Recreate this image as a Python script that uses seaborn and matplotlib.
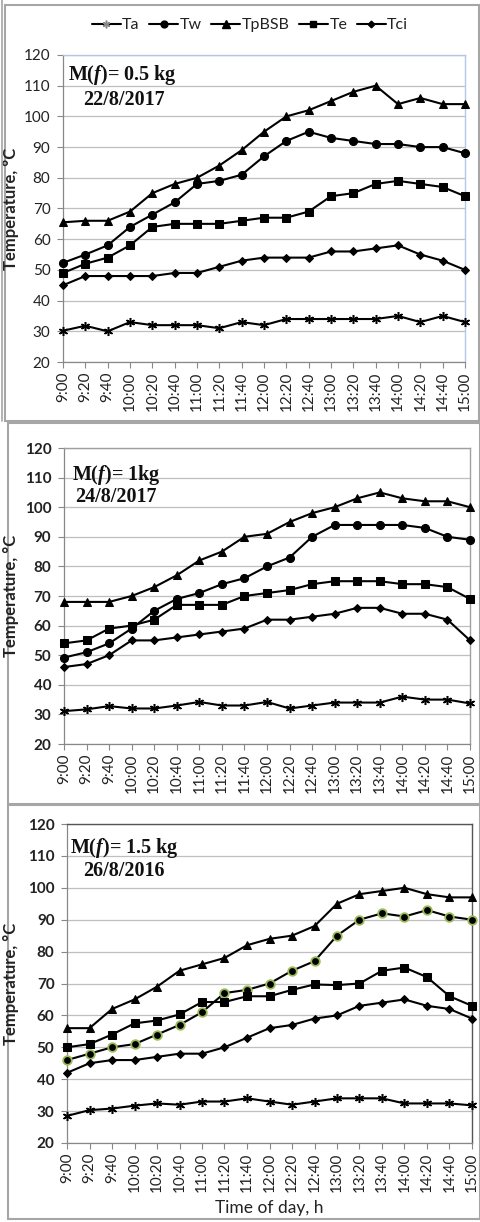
import matplotlib
matplotlib.use("Agg")
import matplotlib.pyplot as plt
from matplotlib.patches import Rectangle
from matplotlib.lines import Line2D
import seaborn as sns
import pandas as pd

sns.set_theme(style="white")
plt.rcParams['font.family'] = ['Lato', 'DejaVu Sans']
plt.rcParams['mathtext.fontset'] = 'custom'
plt.rcParams['mathtext.it'] = 'Liberation Serif:italic:bold'
plt.rcParams['mathtext.rm'] = 'Liberation Serif:bold'
plt.rcParams['mathtext.bf'] = 'Liberation Serif:bold'

times = ['9:00', '9:20', '9:40', '10:00', '10:20', '10:40', '11:00', '11:20', '11:40',
         '12:00', '12:20', '12:40', '13:00', '13:20', '13:40', '14:00', '14:20', '14:40', '15:00']
series_names = ['Ta', 'Tw', 'TpBSB', 'Te', 'Tci']

# Panel 1: M(f) = 0.5 kg, 22/8/2017
ta_05 = [30.2, 31.8, 30, 33, 32, 32, 32, 31, 33, 32, 34, 34, 34, 34, 34, 35, 33, 35, 33]
tw_05 = [52.3, 55, 58, 64, 68, 72, 78, 79, 81, 87, 92, 95, 93, 92, 91, 91, 90, 90, 88]
tp_05 = [65.5, 66, 66, 69, 75, 78, 80, 84, 89, 95, 100, 102, 105, 108, 110, 104, 106, 104, 104]
te_05 = [49, 52, 54, 58, 64, 65, 65, 65, 66, 67, 67, 69, 74, 75, 78, 79, 78, 77, 74]
tci_05 = [45, 48, 48, 48, 48, 49, 49, 51, 53, 54, 54, 54, 56, 56, 57, 58, 55, 53, 50]

# Panel 2: M(f) = 1 kg, 24/8/2017
ta_10 = [31.1, 31.7, 32.8, 32, 32, 33, 34.2, 33, 33, 34.2, 32, 33, 34, 34, 34, 36, 35, 35, 33.7]
tw_10 = [49.2, 51, 54, 59, 65, 69, 71, 74, 76, 80, 83, 90, 94, 94, 94, 94, 93, 90, 89]
tp_10 = [68, 68, 68, 70, 73, 77, 82, 85, 90, 91, 95, 98, 100, 103, 105, 103, 102, 102, 100]
te_10 = [54, 55, 59, 60, 62, 67, 67, 67, 70, 71, 72, 74, 75, 75, 75, 74, 74, 73, 69]
tci_10 = [46, 47, 50, 55, 55, 56, 57, 58, 59, 62, 62, 63, 64, 66, 66, 64, 64, 62, 55]

# Panel 3: M(f) = 1.5 kg, 26/8/2016
ta_15 = [28.5, 30.3, 30.8, 31.7, 32.4, 32, 33, 33, 34, 33, 32, 33, 34, 34, 34, 32.4, 32.4, 32.4, 31.8]
tw_15 = [46, 48, 50, 51, 54, 57, 61, 67, 68, 70, 74, 77, 85, 90, 92, 91, 93, 91, 90]
tp_15 = [56, 56, 62, 65, 69, 74, 76, 78, 82, 84, 85, 88, 95, 98, 99, 100, 98, 97, 97]
te_15 = [50, 51, 54, 57.5, 58.4, 60.3, 64.2, 64.2, 66, 66, 68, 69.7, 69.5, 70, 74, 75, 72, 66, 63]
tci_15 = [42, 45, 46, 46, 47, 48, 48, 50, 53, 56, 57, 59, 60, 63, 64, 65, 63, 62, 59]

panels = [
    dict(data=[ta_05, tw_05, tp_05, te_05, tci_05], title=r'M($\mathit{f}$)= 0.5 kg', date='22/8/2017'),
    dict(data=[ta_10, tw_10, tp_10, te_10, tci_10], title=r'M($\mathit{f}$)= 1kg', date='24/8/2017'),
    dict(data=[ta_15, tw_15, tp_15, te_15, tci_15], title=r'M($\mathit{f}$)= 1.5 kg', date='26/8/2016'),
]

W, H = 481, 1222
fig = plt.figure(figsize=(W / 100, H / 100), dpi=100)
fig.patch.set_facecolor('white')

def fx(px):
    return px / W

def fy(py):
    return 1 - py / H

# axes boxes in pixels (left, top, right, bottom)
boxes = [(63, 55, 465, 362), (64, 448, 470, 744), (67, 824, 472, 1143)]
# outer panel frames
frames = [(5, 5, 479, 421), (8, 423, 480, 804), (8, 805, 480, 1219)]
# annotation positions (x, baseline) for title and date
ann = [((68, 80), (83, 105)), ((72, 480), (75, 502)), ((70, 853), (83, 876))]

styles = {
    'Ta': dict(marker=(6, 2, 0), markersize=6.5, markeredgewidth=1.1),
    'Tw': dict(marker='o', markersize=5.8),
    'TpBSB': dict(marker='^', markersize=6),
    'Te': dict(marker='s', markersize=5.6),
    'Tci': dict(marker='D', markersize=4),
}

for (x0, y0, x1, y1) in frames:
    fig.add_artist(Rectangle((fx(x0), fy(y1)), fx(x1 - x0), (y1 - y0) / H,
                             transform=fig.transFigure, fill=False,
                             edgecolor='#a6a6a6', lw=1.5, zorder=0))
fig.add_artist(Line2D([fx(1.5), fx(1.5)], [fy(0), fy(421)], transform=fig.transFigure,
                      color='#a6a6a6', lw=1.2))

axes = []
for i, p in enumerate(panels):
    x0, y0, x1, y1 = boxes[i]
    ax = fig.add_axes([fx(x0), fy(y1), fx(x1 - x0), (y1 - y0) / H])
    axes.append(ax)
    for name, vals in zip(series_names, p['data']):
        st = dict(styles[name])
        mec = 'black'
        if i == 2 and name == 'Tw':
            mec = '#9bbb59'
            st['markersize'] = 6.2
            st['markeredgewidth'] = 1.3
        df = pd.DataFrame({'time': times, 'value': vals})
        sns.lineplot(data=df, x='time', y='value', ax=ax, color='black', lw=1.5,
                     markerfacecolor='black', markeredgecolor=mec, clip_on=False,
                     label=name, zorder=3, **st)
    if ax.get_legend() is not None:
        ax.get_legend().remove()
    ax.set_xlim(0, len(times) - 1)
    ax.set_ylim(20, 120)
    ax.set_yticks(range(20, 121, 10))
    ax.set_xticks(range(len(times)))
    ax.set_xticklabels(times, rotation=90, fontsize=11, color='#222222')
    ax.grid(axis='y', color='#bfbfbf', lw=0.9)
    ax.grid(axis='x', visible=False)
    ax.set_axisbelow(True)
    weight = 'normal' if i == 0 else 'bold'
    for lab in ax.get_yticklabels():
        lab.set_fontsize(11)
        lab.set_fontweight(weight)
        lab.set_color('#222222')
    ax.tick_params(axis='both', which='major', length=4, width=0.8, color='#888888',
                   direction='out', bottom=True, left=True, pad=3)
    ax.tick_params(axis='y', pad=5)
    ax.set_ylabel('Temperature, °C', fontsize=12, fontweight='bold', color='#222222')
    ax.yaxis.set_label_coords((19 - x0) / (x1 - x0), 0.5)
    ax.set_xlabel('')
    for s in ['left', 'bottom']:
        ax.spines[s].set_color('#888888')
        ax.spines[s].set_linewidth(0.9)
    if i == 0:
        topc = '#b4c7e7'
    elif i == 1:
        topc = '#a0a0a0'
    else:
        topc = '#555555'
    for s in ['top', 'right']:
        ax.spines[s].set_color(topc)
        ax.spines[s].set_linewidth(1.0)
    (tx, tyb), (dx, dyb) = ann[i]
    fig.text(fx(tx), fy(tyb), p['title'], family='Liberation Serif', fontweight='bold',
             fontsize=14.5, va='baseline', ha='left', color='#111111')
    fig.text(fx(dx), fy(dyb), p['date'], family='Liberation Serif', fontweight='bold',
             fontsize=14.5, va='baseline', ha='left', color='#111111')

axes[2].set_xlabel('Time of day, h', fontsize=12.5, color='#222222', labelpad=6)

handles = []
for name in series_names:
    st = dict(styles[name])
    st['markersize'] = st['markersize'] * 0.85
    c = '#888888' if name == 'Ta' else 'black'
    handles.append(Line2D([], [], color='black', lw=1.5, markerfacecolor=c,
                          markeredgecolor=c, **st))
fig.legend(handles, series_names, loc='center', bbox_to_anchor=(fx(250), fy(25)),
           ncol=5, frameon=False, fontsize=11.5, handlelength=1.8, handletextpad=0.1,
           columnspacing=0.6, labelcolor='#222222')

fig.savefig('out.png', dpi=100, facecolor='white')
